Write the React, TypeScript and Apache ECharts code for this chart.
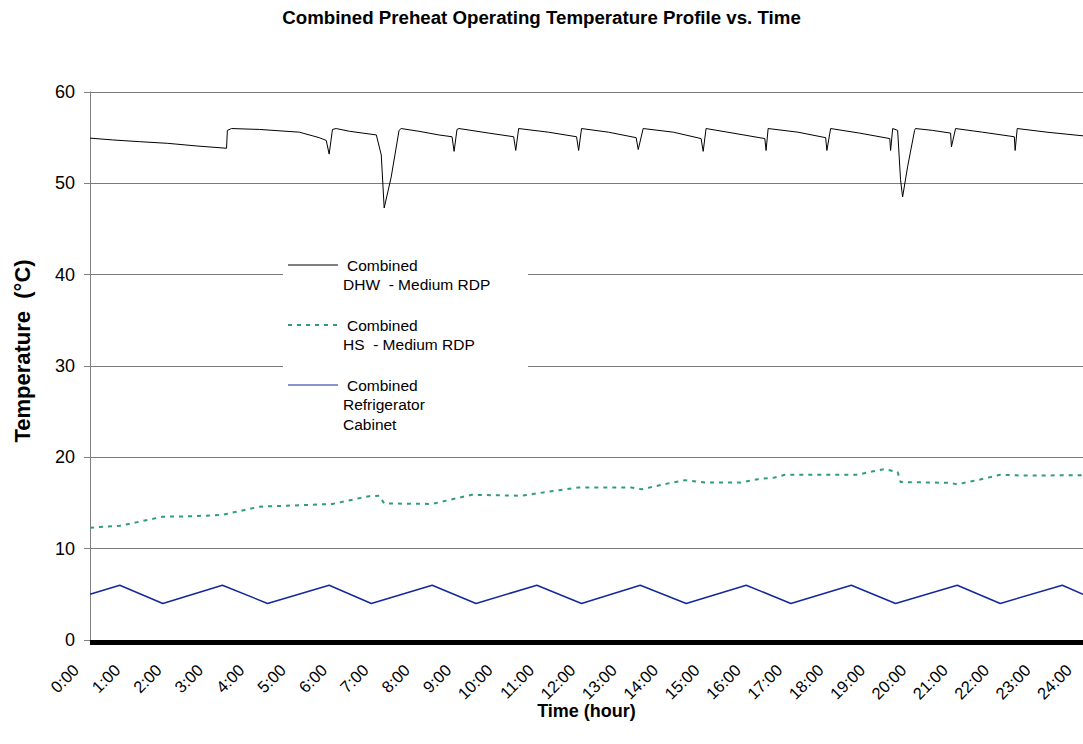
import React, { useEffect, useRef } from "react";
import * as echarts from "echarts";

// Time axis labels (hours of the day)
const hourLabels = [
  "0:00", "1:00", "2:00", "3:00", "4:00", "5:00", "6:00", "7:00", "8:00",
  "9:00", "10:00", "11:00", "12:00", "13:00", "14:00", "15:00", "16:00",
  "17:00", "18:00", "19:00", "20:00", "21:00", "22:00", "23:00", "24:00",
];

const seriesNames = [
  "Combined DHW  - Medium RDP",
  "Combined HS  - Medium RDP",
  "Combined Refrigerator Cabinet",
];

// Legend text, line by line
const legendText = [
  ["Combined", "DHW  - Medium RDP"],
  ["Combined", "HS  - Medium RDP"],
  ["Combined", "Refrigerator", "Cabinet"],
];

// DHW preheat tank temperature (°C)
const dhwHours = [
  0, 0.55, 1.2, 1.88, 2.58, 3.3, 3.32, 3.42, 4.1, 5.06, 5.54, 5.71, 5.78, 5.86,
  5.95, 6.27, 6.92, 7.04, 7.11, 7.28, 7.47, 7.52, 7.95, 8.43, 8.75, 8.8, 8.87,
  8.92, 9.64, 10.24, 10.29, 10.36, 11.08, 11.76, 11.81, 11.88, 12.53, 13.2,
  13.25, 13.37, 14.1, 14.77, 14.82, 14.89, 15.54, 16.31, 16.34, 16.39, 17.11,
  17.78, 17.81, 17.9, 18.6, 19.33, 19.35, 19.4, 19.52, 19.59, 19.64, 19.76,
  19.93, 19.95, 20.36, 20.8, 20.82, 20.92, 21.57, 22.34, 22.36, 22.41, 23.13, 24,
];
const dhwTemps = [
  54.95, 54.75, 54.56, 54.38, 54.09, 53.84, 55.8, 56.0, 55.9, 55.6, 55.0, 54.7,
  53.2, 55.9, 56.0, 55.7, 55.3, 53.1, 47.3, 50.7, 55.8, 56.0, 55.7, 55.3, 55.1,
  53.5, 55.9, 56.0, 55.5, 55.1, 53.6, 56.0, 55.6, 55.1, 53.6, 56.0, 55.6, 55.0,
  53.7, 56.0, 55.6, 54.9, 53.5, 56.0, 55.5, 54.9, 53.6, 56.0, 55.6, 55.0, 53.6,
  56.0, 55.5, 54.9, 53.6, 56.0, 55.8, 50.4, 48.5, 51.8, 55.8, 56.0, 55.8, 55.5,
  54.0, 56.0, 55.6, 55.1, 53.6, 56.0, 55.6, 55.2,
];

// HS preheat tank temperature (°C)
const hsHours = [
  0, 0.72, 1.76, 2.48, 3.2, 4.1, 4.75, 5.86, 6.75, 6.99, 7.11, 8.27, 9.23,
  10.43, 11.33, 11.81, 13.08, 13.33, 13.98, 14.39, 14.87, 15.73, 16.14, 16.55,
  16.8, 18.55, 18.96, 19.2, 19.52, 19.59, 20.8, 20.96, 21.45, 22.0, 22.58, 24,
];
const hsTemps = [
  12.3, 12.5, 13.5, 13.55, 13.7, 14.6, 14.7, 14.9, 15.75, 15.8, 14.95, 14.9,
  15.9, 15.8, 16.4, 16.7, 16.7, 16.5, 17.15, 17.5, 17.25, 17.25, 17.6, 17.8,
  18.1, 18.1, 18.5, 18.7, 18.4, 17.3, 17.2, 17.05, 17.5, 18.1, 18.0, 18.05,
];

// Refrigerator cabinet temperature (°C)
const fridgeHours = [
  0, 0.72, 1.76, 3.2, 4.29, 5.78, 6.8, 8.27, 9.33, 10.8, 11.88, 13.3, 14.41,
  15.86, 16.94, 18.4, 19.47, 20.96, 22.0, 23.5, 24,
];
const fridgeTemps = [
  5.0, 6.0, 4.0, 6.0, 4.0, 6.0, 4.0, 6.0, 4.0, 6.0, 4.0, 6.0, 4.0, 6.0, 4.0,
  6.0, 4.0, 6.0, 4.0, 6.0, 5.0,
];

const seriesColors = ["#000000", "#2f9e72", "#14289c"];

const zip = (xs: number[], ys: number[]) => xs.map((x, i) => [x, ys[i]]);

const FONT = "'Liberation Sans', Arial, Helvetica, sans-serif";

function buildLegend() {
  const elements: any[] = [
    {
      type: "rect",
      shape: { x: 283, y: 240, width: 245, height: 200 },
      style: { fill: "#ffffff" },
      z: 50,
    },
  ];
  const rowTop = [265, 325, 385];
  legendText.forEach((lines, i) => {
    const y = rowTop[i];
    elements.push({
      type: "line",
      shape: { x1: 288, y1: y, x2: 338, y2: y },
      style: {
        stroke: seriesColors[i],
        lineWidth: i === 1 ? 2 : 1,
        lineDash: i === 1 ? [4, 5] : null,
      },
      z: 51,
    });
    lines.forEach((t, j) => {
      elements.push({
        type: "text",
        x: j === 0 ? 347 : 343,
        y: y + j * 19.5,
        style: {
          text: t,
          fill: "#000",
          fontSize: 15.5,
          fontFamily: FONT,
          verticalAlign: "middle",
          align: "left",
        },
        z: 51,
      });
    });
  });
  return elements;
}

export default function App() {
  const ref = useRef<HTMLDivElement>(null);

  useEffect(() => {
    if (!ref.current) return;
    const chart = echarts.init(ref.current, null, { renderer: "svg" });
    chart.setOption({
      animation: false,
      backgroundColor: "#ffffff",
      textStyle: { fontFamily: FONT },
      title: {
        text: "Combined Preheat Operating Temperature Profile vs. Time",
        left: "center",
        top: 3,
        textStyle: { fontSize: 18.7, fontWeight: "bold", color: "#000", fontFamily: FONT },
      },
      grid: { left: 90, right: -3, top: 92, bottom: 104, containLabel: false },
      xAxis: {
        type: "value",
        min: 0,
        max: 24,
        interval: 1,
        name: "Time (hour)",
        nameLocation: "middle",
        nameGap: 62,
        nameMoveOverlap: false,
        nameTextStyle: { fontSize: 18, fontWeight: "bold", color: "#000" },
        axisLine: { show: true, onZero: false, lineStyle: { color: "#000", width: 1 } },
        axisTick: { show: true, length: 5, lineStyle: { color: "#000", width: 1 } },
        minorTick: { show: true, splitNumber: 60, length: 5, lineStyle: { color: "#000", width: 1 } },
        splitLine: { show: false },
        minorSplitLine: { show: false },
        axisLabel: {
          rotate: 45,
          fontSize: 16.5,
          color: "#000",
          margin: 13,
          padding: [0, 20, 0, 0],
          showMaxLabel: true,
          showMinLabel: true,
          formatter: (v: number) => hourLabels[Math.round(v)] ?? "",
        },
      },
      yAxis: {
        type: "value",
        min: 0,
        max: 60,
        interval: 10,
        name: "Temperature  (°C)",
        nameLocation: "middle",
        nameGap: 57,
        nameMoveOverlap: false,
        nameTextStyle: {
          fontSize: 22,
          fontWeight: "bold",
          color: "#000",
          padding: [0, 0, 0, 30],
        },
        axisLine: { show: true, lineStyle: { color: "#808080", width: 1 } },
        axisTick: { show: true, length: 6, lineStyle: { color: "#808080" } },
        splitLine: { show: true, lineStyle: { color: "#7a7a7a", width: 1 } },
        axisLabel: { fontSize: 18, color: "#000", margin: 15 },
      },
      series: [
        {
          name: seriesNames[0],
          type: "line",
          data: zip(dhwHours, dhwTemps),
          showSymbol: false,
          symbol: "none",
          lineStyle: { color: seriesColors[0], width: 1 },
          z: 3,
        },
        {
          name: seriesNames[1],
          type: "line",
          data: zip(hsHours, hsTemps),
          showSymbol: false,
          symbol: "none",
          lineStyle: { color: seriesColors[1], width: 2, type: [4, 5] },
          z: 3,
        },
        {
          name: seriesNames[2],
          type: "line",
          data: zip(fridgeHours, fridgeTemps),
          showSymbol: false,
          symbol: "none",
          lineStyle: { color: seriesColors[2], width: 1.5 },
          z: 3,
        },
      ],
      graphic: buildLegend(),
    });
    return () => chart.dispose();
  }, []);

  return (
    <div
      ref={ref}
      style={{ position: "absolute", left: 0, top: 0, width: 1083, height: 744 }}
    />
  );
}
